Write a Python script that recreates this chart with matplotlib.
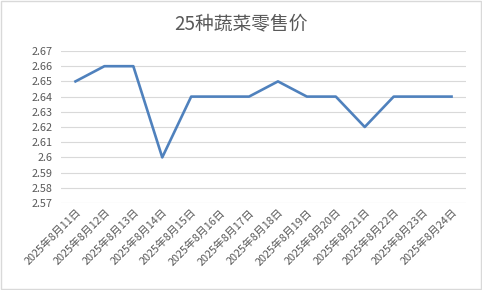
import matplotlib
matplotlib.use("Agg")
import matplotlib.pyplot as plt
from matplotlib.patches import Rectangle

plt.rcParams['font.family'] = ['Noto Sans CJK SC', 'DejaVu Sans']

title = "25种蔬菜零售价"
dates = ["2025年8月11日", "2025年8月12日", "2025年8月13日", "2025年8月14日",
         "2025年8月15日", "2025年8月16日", "2025年8月17日", "2025年8月18日",
         "2025年8月19日", "2025年8月20日", "2025年8月21日", "2025年8月22日",
         "2025年8月23日", "2025年8月24日"]
prices = [2.65, 2.66, 2.66, 2.60, 2.64, 2.64, 2.64, 2.65, 2.64, 2.64, 2.62, 2.64, 2.64, 2.64]
yticks = [2.57, 2.58, 2.59, 2.60, 2.61, 2.62, 2.63, 2.64, 2.65, 2.66, 2.67]
ytick_labels = ["2.57", "2.58", "2.59", "2.6", "2.61", "2.62", "2.63", "2.64", "2.65", "2.66", "2.67"]

fig = plt.figure(figsize=(4.82, 2.90), dpi=100)
ax = fig.add_axes([61/482, 1-203/290, (466-61)/482, (203-51)/290])

x = list(range(len(dates)))
ax.plot(x, prices, color='#4f81bd', linewidth=1.9, solid_joinstyle='round', zorder=3)

ax.set_xlim(-0.5, len(dates)-0.5)
ax.set_ylim(2.57, 2.67)
ax.set_yticks(yticks)
ax.set_yticklabels(ytick_labels)
ax.set_xticks(x)
ax.set_xticklabels(dates, rotation=45, ha='right', rotation_mode='anchor')
ax.grid(axis='y', color='#d9d9d9', linewidth=0.8)
ax.set_axisbelow(True)
for s in ax.spines.values():
    s.set_visible(False)
ax.tick_params(axis='both', length=0, colors='#595959', labelsize=7.8)
ax.tick_params(axis='y', pad=6)
ax.tick_params(axis='x', pad=3)

fig.text(0.5, 1-24/290, title, ha='center', va='center', fontsize=13.5, color='#595959')
fig.patches.append(Rectangle((0.002, 0.003), 0.995, 0.994, transform=fig.transFigure,
                             fill=False, edgecolor='#d9d9d9', linewidth=1))

fig.savefig("out.png", dpi=100, facecolor='white')
